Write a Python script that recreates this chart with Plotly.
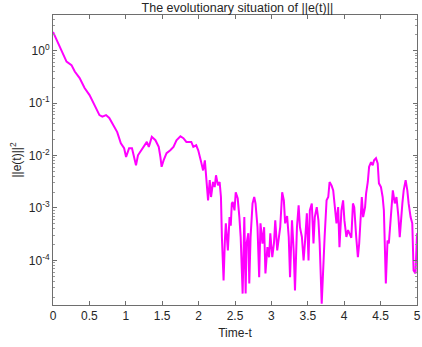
import plotly.graph_objects as go

t = [0.000, 0.050, 0.118, 0.186, 0.254, 0.299, 0.366, 0.434, 0.502, 0.570,
     0.638, 0.678, 0.729, 0.773, 0.841, 0.882, 0.932, 0.977, 1.004, 1.045,
     1.085, 1.113, 1.140, 1.167, 1.217, 1.248, 1.289, 1.316, 1.357, 1.407,
     1.452, 1.475, 1.492, 1.519, 1.560, 1.611, 1.655, 1.696, 1.750, 1.791,
     1.832, 1.900, 1.927, 1.967, 1.995, 2.035, 2.062, 2.086, 2.103, 2.130,
     2.153, 2.171, 2.198, 2.221, 2.239, 2.266, 2.289, 2.307, 2.320, 2.343,
     2.361, 2.374, 2.402, 2.425, 2.442, 2.456, 2.469, 2.493, 2.510, 2.537,
     2.560, 2.578, 2.605, 2.628, 2.646, 2.659, 2.683, 2.696, 2.714, 2.741,
     2.764, 2.782, 2.809, 2.832, 2.850, 2.877, 2.900, 2.918, 2.945, 2.968,
     2.985, 3.012, 3.035, 3.053, 3.080, 3.103, 3.121, 3.148, 3.171, 3.189,
     3.216, 3.238, 3.256, 3.283, 3.306, 3.324, 3.351, 3.374, 3.392, 3.419,
     3.442, 3.460, 3.487, 3.510, 3.528, 3.555, 3.578, 3.596, 3.623, 3.646,
     3.663, 3.691, 3.714, 3.731, 3.758, 3.781, 3.799, 3.826, 3.849, 3.867,
     3.894, 3.917, 3.935, 3.962, 3.985, 4.003, 4.030, 4.053, 4.070, 4.098,
     4.120, 4.138, 4.165, 4.188, 4.206, 4.233, 4.242, 4.260, 4.287, 4.301,
     4.324, 4.342, 4.369, 4.392, 4.410, 4.437, 4.460, 4.477, 4.505, 4.528,
     4.545, 4.572, 4.595, 4.613, 4.640, 4.668, 4.695, 4.718, 4.745, 4.763,
     4.799, 4.817, 4.844, 4.867, 4.885, 4.912, 4.935, 4.953, 4.980, 5.000]

err = [2.28, 1.60, 1.03, 0.62, 0.53, 0.40, 0.30, 0.194, 0.142, 0.092,
       0.059, 0.055, 0.059, 0.052, 0.035, 0.028, 0.0172, 0.0138, 0.0094, 0.0138,
       0.0138, 0.0094, 0.0065, 0.0101, 0.0126, 0.0146, 0.0182, 0.0146, 0.0227, 0.0196,
       0.0146, 0.0094, 0.0061, 0.0081, 0.0111, 0.0126, 0.0146, 0.0196, 0.0234, 0.0214,
       0.0182, 0.0182, 0.0146, 0.0157, 0.0126, 0.0075, 0.0052, 0.0081, 0.0034, 0.0014,
       0.0034, 0.00162, 0.00313, 0.00251, 0.0042, 0.0027, 0.00313, 0.00162, 0.000278, 0.0000413,
       0.00024, 0.00051, 0.000155, 0.00067, 0.00046, 0.00122, 0.0013, 0.0009, 0.0020, 0.00153,
       0.00067, 0.000278, 0.0000233, 0.00067, 0.0000233, 0.00021, 0.00033, 0.0000362, 0.000278, 0.00122,
       0.00162, 0.00122, 0.00043, 0.0000477, 0.00051, 0.00021, 0.00043, 0.0000562, 0.000179, 0.000115,
       0.00033, 0.000115, 0.00021, 0.00058, 0.000155, 0.000278, 0.00043, 0.0020, 0.0014, 0.00051,
       0.0007, 0.00028, 0.0000477, 0.00058, 0.000155, 0.0000266, 0.00043, 0.00112, 0.00043, 0.00028,
       0.0000995, 0.00021, 0.00079, 0.0000995, 0.0009, 0.00122, 0.00021, 0.00067, 0.00104, 0.00058,
       0.00021, 0.000015, 0.0000995, 0.00028, 0.0014, 0.00162, 0.00313, 0.0027, 0.00217, 0.00104,
       0.00051, 0.00104, 0.000179, 0.0009, 0.0014, 0.00058, 0.00028, 0.00038, 0.00033, 0.00027,
       0.00122, 0.00104, 0.00028, 0.000115, 0.00021, 0.0009, 0.00162, 0.00067, 0.00104, 0.0019,
       0.00313, 0.0061, 0.0075, 0.0065, 0.0081, 0.0089, 0.0071, 0.00295, 0.00251, 0.00162,
       0.0009, 0.0000362, 0.00024, 0.00021, 0.00058, 0.00217, 0.00122, 0.00162, 0.00067, 0.000278,
       0.00122, 0.00217, 0.0034, 0.00217, 0.00122, 0.00067, 0.00051, 0.0000641, 0.0000562, 0.00033]

x_ticks = [0, 0.5, 1, 1.5, 2, 2.5, 3, 3.5, 4, 4.5, 5]
x_tick_labels = ["0", "0.5", "1", "1.5", "2", "2.5", "3", "3.5", "4", "4.5", "5"]
y_ticks = [1e-4, 1e-3, 1e-2, 1e-1, 1e0]
y_tick_labels = ["10<sup>-4</sup>", "10<sup>-3</sup>", "10<sup>-2</sup>", "10<sup>-1</sup>", "10<sup>0</sup>"]

fig = go.Figure()
fig.add_trace(go.Scatter(x=t, y=err, mode="lines",
                         line=dict(color="#ff00ff", width=2), showlegend=False))

axis_color = "#6e6e6e"
font_family = "Liberation Sans, Arial, sans-serif"

fig.update_layout(
    width=422, height=347,
    margin=dict(l=53, r=1, t=15, b=42),
    paper_bgcolor="white", plot_bgcolor="white",
    font=dict(family=font_family, size=12, color="#262626"),
    title=dict(text="The evolutionary situation of ||e(t)||", x=0.5625, xanchor="center",
               y=0.99, yanchor="top", font=dict(size=12.5, color="#262626")),
    xaxis=dict(range=[0, 5], tickvals=x_ticks, ticktext=x_tick_labels,
               showgrid=False, zeroline=False, showline=True, linecolor=axis_color,
               linewidth=1, mirror="ticks", ticks="inside", ticklen=4,
               tickcolor=axis_color, ticklabeloverflow="allow",
               title=dict(text="Time-t", standoff=6, font=dict(size=12))),
    yaxis=dict(type="log", range=[-4.85, 0.68], tickvals=y_ticks, ticktext=y_tick_labels,
               showgrid=False, zeroline=False, showline=True, linecolor=axis_color,
               linewidth=1, mirror="ticks", ticks="inside", ticklen=4,
               tickcolor=axis_color,
               minor=dict(ticks="inside", ticklen=2, dtick="D1", tickcolor="#9a9a9a",
                          showgrid=False),
               title=dict(text="||e(t)||<sup>2</sup>", standoff=4, font=dict(size=12))),
)

fig.write_html("out.html", config={"displayModeBar": False},
               post_script="document.body.style.margin='0px';")
